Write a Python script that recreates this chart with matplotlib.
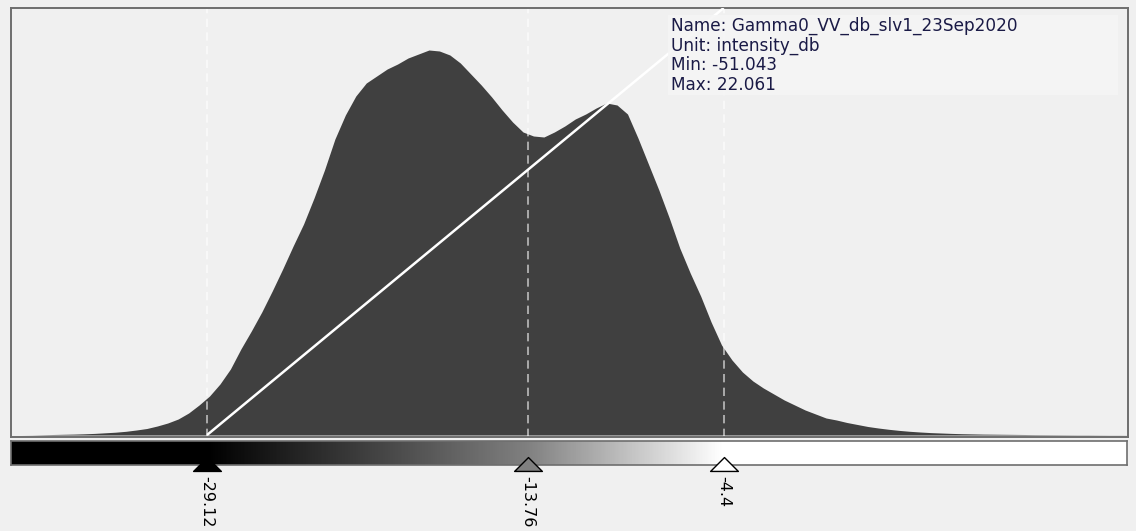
import numpy as np
import matplotlib
matplotlib.use("Agg")
import matplotlib.pyplot as plt
from matplotlib.colors import LinearSegmentedColormap, Normalize
from matplotlib.patches import Rectangle
from matplotlib.path import Path
from matplotlib.markers import MarkerStyle

# Histogram of Gamma0_VV (dB), 0.5 dB bins
bin_start, bin_stop, bin_width = -38.5, 15.0, 0.5
counts = [
    0, 0, 0.1, 0.3, 0.5, 0.7, 0.9, 1.2, 1.6, 2.2,
    2.8, 3.7, 5, 6.5, 9, 12, 16, 22, 30, 39,
    51, 66, 86, 104, 123, 144, 166, 189, 211, 237,
    265, 296, 320, 339, 352, 359, 366, 371, 377, 381,
    385, 384, 380, 372, 361, 350, 338, 325, 313, 303,
    299, 298, 303, 309, 316, 321, 327, 332, 330, 321,
    297, 271, 245, 217, 187, 162, 139, 113, 90, 75,
    63, 54, 47, 41, 35, 30, 25, 21, 17, 15,
    12.5, 10.5, 8.5, 7, 5.7, 4.6, 3.7, 3, 2.4, 2,
    1.6, 1.3, 1.1, 0.9, 0.8, 0.7, 0.6, 0.5, 0.4, 0.35,
    0.3, 0.25, 0.2, 0.2, 0.15, 0.1, 0.1, 0.05,
]

# Colour stretch sliders: min, mid, max
slider_values = [-29.12, -13.76, -4.4]
slider_colors = ["#000000", "#808080", "#ffffff"]

info_lines = [
    "Name: Gamma0_VV_db_slv1_23Sep2020",
    "Unit: intensity_db",
    "Min: -51.043",
    "Max: 22.061",
]

view_range = (-38.5, 14.95)
count_range = (-2, 427)

bg = "#f0f0f0"
W, H = 1136, 531
fig = plt.figure(figsize=(W / 100, H / 100), dpi=100, facecolor=bg)

# ---- histogram panel ----
ax = fig.add_axes([11 / W, 1 - 437 / H, 1117 / W, 429 / H])
ax.set_facecolor(bg)
centers = np.arange(bin_start, bin_stop + bin_width / 2, bin_width)
ax.fill_between(centers, counts, 0, color="#404040", lw=0, zorder=1)
ax.set_xlim(*view_range)
ax.set_ylim(*count_range)
ax.set_xticks([])
ax.set_yticks([])
for side, sp in ax.spines.items():
    sp.set_color("#6e6e6e")
    sp.set_linewidth(1.4)

for v in slider_values:
    ax.axvline(v, color="white", alpha=0.65, lw=1.2,
               linestyle=(0, (5.0, 3.2)), zorder=2)

# linear stretch ramp from min slider to max slider
ax.plot([slider_values[0], slider_values[-1]], [0, count_range[1]],
        color="white", lw=1.8, zorder=3, solid_capstyle="butt")

# info box
ax.add_patch(Rectangle((0.588, 0.797), 0.403, 0.187, transform=ax.transAxes,
                       facecolor="#f5f5f5", alpha=0.88, lw=0, zorder=4))
ax.text(0.591, 0.980, "\n".join(info_lines), transform=ax.transAxes,
        ha="left", va="top", fontsize=12.2, color="#1a1a46",
        linespacing=1.12, family="DejaVu Sans", zorder=5)

# ---- colour bar ----
cax = fig.add_axes([11 / W, 1 - 465 / H, 1116 / W, 24 / H])
stops = [(0.0, slider_colors[0]),
         ((slider_values[1] - slider_values[0]) / (slider_values[2] - slider_values[0]),
          slider_colors[1]),
         (1.0, slider_colors[2])]
cmap = LinearSegmentedColormap.from_list("stretch", stops)
cmap.set_under(slider_colors[0])
cmap.set_over(slider_colors[2])
grad = np.linspace(view_range[0], view_range[1], 1400)[None, :]
cax.imshow(grad, cmap=cmap, norm=Normalize(slider_values[0], slider_values[-1]),
           extent=[view_range[0], view_range[1], 0, 1], aspect="auto",
           interpolation="bilinear")
cax.set_xlim(*view_range)
cax.set_ylim(0, 1)
cax.set_xticks([])
cax.set_yticks([])
for sp in cax.spines.values():
    sp.set_color("#6e6e6e")
    sp.set_linewidth(1.2)

# ---- slider markers and labels ----
max_ax = fig.add_axes([11 / W, 0, 1117 / W, 94 / H])
max_ax.set_xlim(*view_range)
max_ax.set_ylim(0, 94)
max_ax.axis("off")
tri = Path([(-1, -0.5), (0, 0.5), (1, -0.5), (-1, -0.5)],
           [Path.MOVETO, Path.LINETO, Path.LINETO, Path.CLOSEPOLY])
for v, c in zip(slider_values, slider_colors):
    max_ax.scatter([v], [67], marker=MarkerStyle(tri), s=400, facecolor=c,
                   edgecolor="black", linewidths=1.0, zorder=5, clip_on=False)
    max_ax.text(v, 55, f"{v:g}", rotation=270, ha="center", va="top",
                fontsize=11.5, color="black")

fig.savefig("out.png", dpi=100, facecolor=bg)
